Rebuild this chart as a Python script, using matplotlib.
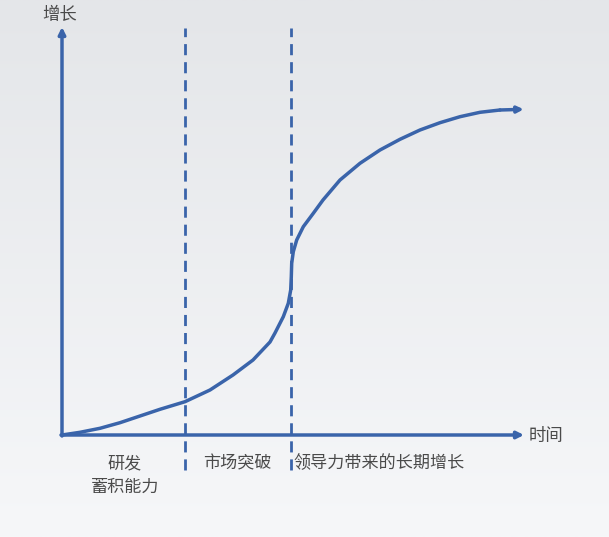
import numpy as np
import matplotlib.pyplot as plt

plt.rcParams['font.family'] = ['Noto Sans CJK SC', 'DejaVu Sans']

# curve points (time, growth), origin at axis corner
curve_t = [0, 18, 38, 58, 78, 98, 123, 148, 171, 191, 208, 213, 221.3, 226.3, 228.7, 229.3,
           229.7, 231.3, 234.7, 241.3, 251.3, 261, 278, 298, 318, 338, 358, 378, 398, 418, 438, 459.7]
curve_g = [0, 2.7, 6.7, 12.3, 19, 25.7, 33.3, 45, 60, 75, 93, 102, 118.3, 131.7, 145, 158.3,
           171.7, 183.3, 195, 208.3, 221.7, 235, 255, 271.7, 285, 295.7, 305, 312.3, 318.3, 322.7, 325, 325.7]
phase_t = [123, 229]
phase_labels = ['研发\n蓄积能力', '市场突破', '领导力带来的长期增长']
label_t = [63, 175, 317]

blue = '#3a64aa'
text_c = '#4a4a4a'

fig = plt.figure(figsize=(6.09, 5.37), dpi=100)
bg = fig.add_axes([0, 0, 1, 1])
grad = np.linspace(0, 1, 256).reshape(-1, 1)
bg.imshow(grad, aspect='auto', extent=[0, 1, 0, 1],
          cmap=plt.matplotlib.colors.LinearSegmentedColormap.from_list('g', ['#f6f7f9', '#e4e6e9']),
          origin='lower')
bg.axis('off')

# axes where 1 data unit = 1 pixel, origin at (62, 435) px from top-left
ax = fig.add_axes([0, 0, 1, 1], facecolor='none')
ax.set_xlim(-62, 609 - 62)
ax.set_ylim(-(537 - 435), 435)
ax.axis('off')

# axes arrows
ax.annotate('', xy=(462, 0), xytext=(-1, 0),
            arrowprops=dict(arrowstyle='-|>', color=blue, lw=2.5, mutation_scale=10, shrinkA=0, shrinkB=0))
ax.annotate('', xy=(0, 408), xytext=(0, -1),
            arrowprops=dict(arrowstyle='-|>', color=blue, lw=2.5, mutation_scale=10, shrinkA=0, shrinkB=0))

# growth curve
ax.plot(curve_t[:-1], curve_g[:-1], color=blue, lw=2.5, solid_capstyle='round', solid_joinstyle='round')
ax.annotate('', xy=(curve_t[-1] + 2, curve_g[-1]), xytext=(curve_t[-2], curve_g[-2]),
            arrowprops=dict(arrowstyle='-|>', color=blue, lw=2.5, mutation_scale=9, shrinkA=0, shrinkB=0))

# phase separators
for t in phase_t:
    ax.plot([t, t], [-35, 407], color=blue, lw=2, linestyle=(0, (4, 2.5)))

ax.text(-2, 420, '增长', fontsize=12.5, color=text_c, ha='center', va='center')
ax.text(467, -1, '时间', fontsize=12.5, color=text_c, ha='left', va='center')
ax.text(label_t[0], -40, phase_labels[0], fontsize=12.3, color=text_c, ha='center', va='center', linespacing=1.35)
ax.text(label_t[1], -28, phase_labels[1], fontsize=12.3, color=text_c, ha='center', va='center')
ax.text(label_t[2], -28, phase_labels[2], fontsize=12.3, color=text_c, ha='center', va='center')

fig.savefig('out.png', dpi=100)
